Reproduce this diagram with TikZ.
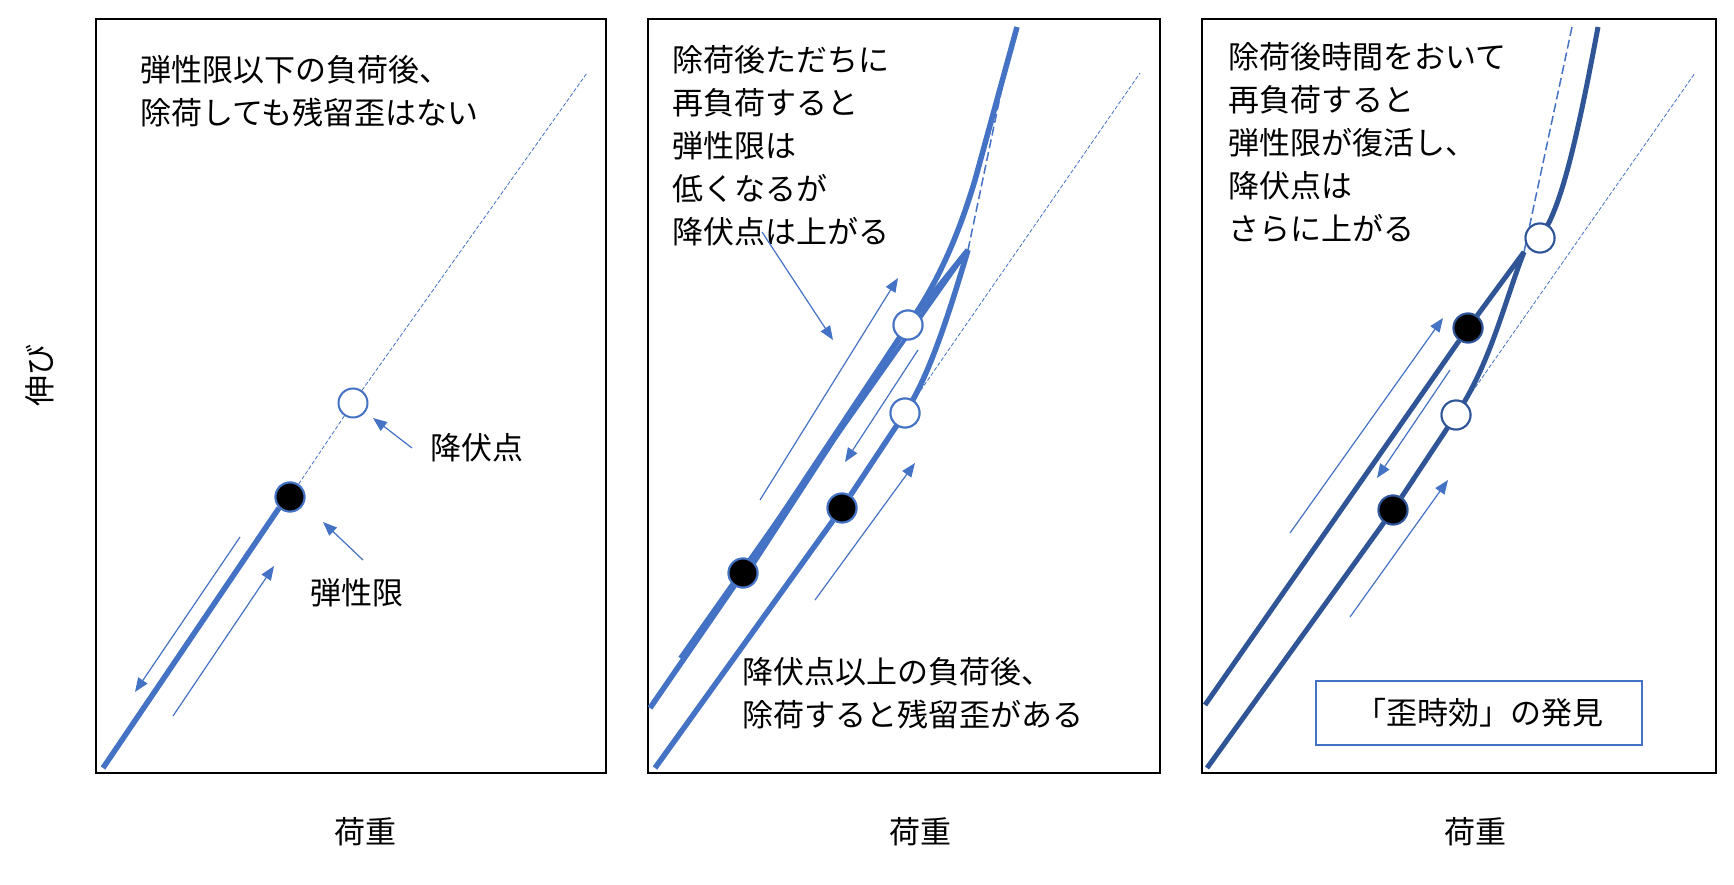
\documentclass[tikz,border=0pt]{standalone}
\usepackage{fontspec}
\setmainfont{Noto Sans CJK JP}
\usetikzlibrary{arrows.meta}
\definecolor{lb}{HTML}{4472C4}
\definecolor{db}{HTML}{2F5597}
\begin{document}
\begin{tikzpicture}[x=1pt,y=-1pt,
 panel/.style={draw=black,line width=2pt},
 thk/.style={draw=lb,line width=5.5pt},
 dthk/.style={draw=db,line width=5pt},
 guide/.style={draw=lb,line width=0.8pt,dash pattern=on 4pt off 2pt},
 dsh/.style={draw=lb,line width=1.5pt,dash pattern=on 9pt off 4pt},
 thinarr/.style={draw=lb,line width=1.2pt,-{Triangle[length=14pt,width=11pt]}},
 fdot/.style={circle,fill=black,draw=lb,line width=2pt,minimum size=29pt,inner sep=0pt},
 odot/.style={circle,fill=white,draw=lb,line width=2pt,minimum size=29pt,inner sep=0pt},
 txt/.style={font=\fontsize{31pt}{43pt}\selectfont,align=left,inner sep=0pt},
 every node/.append style={inner sep=0pt}]
\useasboundingbox (0,0) rectangle (1734,885);
% ---------- panel 1
\draw[panel] (96,19) rectangle (606,773);
\coordinate (p1a) at (103,768);
\node[fdot] (p1e) at (290,497) {};
\node[odot] (p1y) at (353,403) {};
\coordinate (p1t) at (587,73);
\draw[guide] (p1e) -- (p1y) -- (p1t);
\draw[thk] (p1a) -- (p1e.south west);
\node[fdot] at (290,497) {};
\coordinate (a1s) at (240,537); \coordinate (a1e) at (135,692);
\draw[thinarr] (a1s) -- (a1e);
\coordinate (a2s) at (173,716); \coordinate (a2e) at (274,566);
\draw[thinarr] (a2s) -- (a2e);
\node[txt,anchor=west] (l1) at (430,448) {降伏点};
\draw[thinarr] (l1.west)++(-18,0) coordinate (l1s) -- (373,418);
\node[txt,anchor=west] (l2) at (310,593) {弾性限};
\coordinate (l2s) at (363,560);
\draw[thinarr] (l2s) -- (323,522);
\node[txt,anchor=north west] (t1) at (140,55) {弾性限以下の負荷後、\\除荷しても残留歪はない};
% ---------- panel 2
\draw[panel] (648,19) rectangle (1160,773);
\coordinate (b0) at (650,708);
\node[fdot] (b1) at (743,573) {};
\node[odot] (b2) at (908,325) {};
\coordinate (bpk) at (968,250);
\node[fdot] (c1) at (842,508) {};
\node[odot] (c2) at (905,413) {};
\coordinate (c0) at (655,768);
\draw[guide] (c2) -- (1140,73);
\draw[dsh] (bpk) -- (1012,40);
\draw[thk] (b0) -- (b1) -- (b2.center) .. controls (940,280) and (960,230) .. (975,180) -- (1017,27);
\draw[thk] (bpk) -- (b2.center) -- (752,565);
\draw[draw=lb,line width=4pt] (bpk) -- (680,658);
\draw[thk] (c0) -- (c1) -- (c2.center) .. controls (930,375) and (950,310) .. (bpk);
\node[fdot] at (743,573) {};
\node[odot] at (908,325) {};
\node[fdot] at (842,508) {};
\node[odot] at (905,413) {};
\draw[thinarr] (760,500) coordinate (q1) -- (898,278);
\draw[thinarr] (918,350) coordinate (q2) -- (845,462);
\draw[thinarr] (815,600) coordinate (q3) -- (915,463);
\node[txt,anchor=north west] (t2) at (672,45) {除荷後ただちに\\再負荷すると\\弾性限は\\低くなるが\\降伏点は上がる};
\draw[thinarr] (762,232) coordinate (q4) -- (833,340);
\node[txt,anchor=north west] (t3) at (742,657) {降伏点以上の負荷後、\\除荷すると残留歪がある};
% ---------- panel 3
\draw[panel] (1202,19) rectangle (1716,773);
\coordinate (d0) at (1205,705);
\node[fdot] (d1) at (1468,328) {};
\node[odot] (d2) at (1540,238) {};
\coordinate (dj) at (1524,252);
\node[fdot] (e1) at (1393,510) {};
\node[odot] (e2) at (1456,415) {};
\coordinate (e0) at (1207,768);
\draw[guide] (e2) -- (1695,73);
\draw[dsh] (dj) -- (1572,27);
\draw[dthk] (d0) -- (d1) -- (dj);
\draw[dthk] (d2.center) .. controls (1560,210) and (1575,150) .. (1598,27);
\draw[dthk] (e0) -- (e1) -- (e2.center) .. controls (1490,365) and (1505,300) .. (dj);
\node[fdot,draw=db] at (1468,328) {};
\node[odot,draw=db] at (1540,238) {};
\node[fdot,draw=db] at (1393,510) {};
\node[odot,draw=db] at (1456,415) {};
\draw[thinarr] (1290,533) coordinate (r1) -- (1443,318);
\draw[thinarr] (1450,370) coordinate (r2) -- (1377,478);
\draw[thinarr] (1350,617) coordinate (r3) -- (1448,480);
\node[txt,anchor=north west] (t4) at (1228,42) {除荷後時間をおいて\\再負荷すると\\弾性限が復活し、\\降伏点は\\さらに上がる};
\node[draw=lb,line width=1.5pt,minimum width=326pt,minimum height=64pt,font=\fontsize{31pt}{40pt}\selectfont] (bx) at (1479,713) {「歪時効」の発見};
% ---------- axis labels
\node[txt,rotate=90] (yl) at (40,375) {伸び};
\node[txt] (x1) at (365,832) {荷重};
\node[txt] (x2) at (920,832) {荷重};
\node[txt] (x3) at (1475,832) {荷重};
\end{tikzpicture}
\end{document}
